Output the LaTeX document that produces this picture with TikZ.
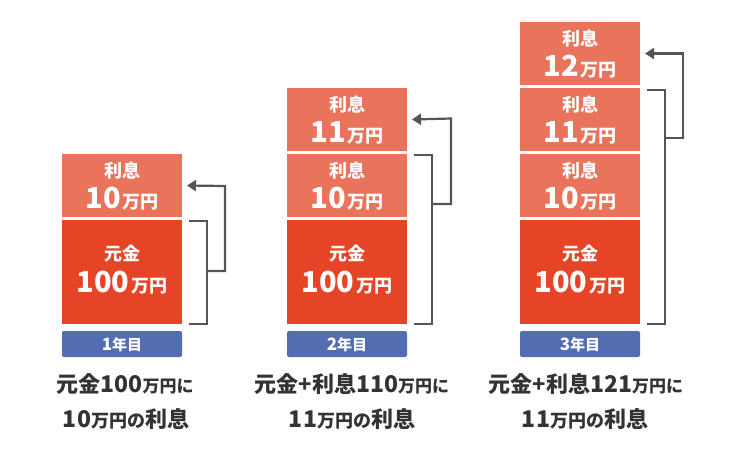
\documentclass[tikz,border=0pt]{standalone}
\usepackage{fontspec}
\setmainfont{Noto Sans CJK JP}
\usetikzlibrary{arrows.meta}
\definecolor{intc}{HTML}{E9735B}
\definecolor{princ}{HTML}{E54427}
\definecolor{yearc}{HTML}{536DB3}
\definecolor{linec}{HTML}{555555}
\definecolor{capc}{HTML}{333333}
\newcommand\myfs[1]{\fontsize{#1}{#1}\selectfont}
\newcommand\numl[1]{{\myfs{29}#1}\hspace{2pt}{\myfs{18}万円}}
\begin{document}
\begin{tikzpicture}[x=1pt,y=-1pt,
 box/.style={draw=none,inner sep=0,outer sep=0,minimum width=120pt,anchor=north west},
 intbox/.style={box,fill=intc,minimum height=63pt},
 prinbox/.style={box,fill=princ,minimum height=104pt},
 yearbox/.style={box,fill=yearc,minimum height=26pt,rounded corners=2pt},
 txt/.style={text=white,font=\bfseries,inner sep=0,anchor=base},
 captxt/.style={text=capc,font=\bfseries,inner sep=0,anchor=base},
 conn/.style={draw=linec,line width=2.2pt},
 arr/.style={conn,-{Triangle[length=9pt,width=11pt]}}]
\useasboundingbox (0,0) rectangle (750,450);

% ---------- column 1 ----------
\node[prinbox] (p1) at (62,220) {};
\node[intbox] (a1) at (62,154) {};
\node[yearbox] (y1) at (62,331) {};
% ---------- column 2 ----------
\node[prinbox] (p2) at (287,220) {};
\node[intbox] (b2) at (287,154) {};
\node[intbox] (a2) at (287,88) {};
\node[yearbox] (y2) at (287,331) {};
% ---------- column 3 ----------
\node[prinbox] (p3) at (520,220) {};
\node[intbox] (c3) at (520,154) {};
\node[intbox] (b3) at (520,88) {};
\node[intbox] (a3) at (520,22) {};
\node[yearbox] (y3) at (520,331) {};

% box texts
\foreach \n/\v in {a1/10, b2/10, a2/11, c3/10, b3/11, a3/12}{
  \node[txt] at ([yshift=8.5pt]\n.center) {\myfs{18}利息};
  \node[txt] at ([yshift=-22.5pt]\n.center) {\numl{\v}};
}
\foreach \n in {p1,p2,p3}{
  \node[txt] at ([yshift=12pt]\n.center) {\myfs{18}元金};
  \node[txt] at ([yshift=-20pt]\n.center) {\numl{100}};
}
\foreach \n/\v in {y1/1, y2/2, y3/3}{
  \node[txt] at ([yshift=-6pt]\n.center) {{\myfs{17}\v}{\myfs{15}年目}};
}

% brackets and arrows
\coordinate (k1t) at (189,221); \coordinate (k1b) at (189,324);
\draw[conn] (k1t) -- (207,221) -- (207,324) -- (k1b);
\draw[arr] (207,271) -- (225,271) -- (225,186) -- ([xshift=5pt]a1.east);

\coordinate (k2t) at (414,155); \coordinate (k2b) at (414,324);
\draw[conn] (k2t) -- (432,155) -- (432,324) -- (k2b);
\draw[arr] (432,204) -- (451,204) -- (451,118.5) -- ([xshift=5pt]a2.east);

\coordinate (k3t) at (647,90); \coordinate (k3b) at (647,324);
\draw[conn] (k3t) -- (665,90) -- (665,324) -- (k3b);
\draw[arr] (665,138) -- (683,138) -- (683,53.5) -- ([xshift=5pt]a3.east);

% captions
\node[captxt] (c1a) at (125,392) {\myfs{22}元金{\myfs{23}100}{\myfs{17}万円に}};
\node[captxt] (c1b) at (126,427) {{\myfs{23}10}{\myfs{18}万円の}\myfs{22}利息};
\node[captxt] (c2a) at (352,392) {\myfs{22}元金+利息{\myfs{23}110}{\myfs{17}万円に}};
\node[captxt] (c2b) at (352,427) {{\myfs{23}11}{\myfs{18}万円の}\myfs{22}利息};
\node[captxt] (c3a) at (586,392) {\myfs{22}元金+利息{\myfs{23}121}{\myfs{17}万円に}};
\node[captxt] (c3b) at (585,427) {{\myfs{23}11}{\myfs{18}万円の}\myfs{22}利息};
\end{tikzpicture}
\end{document}
